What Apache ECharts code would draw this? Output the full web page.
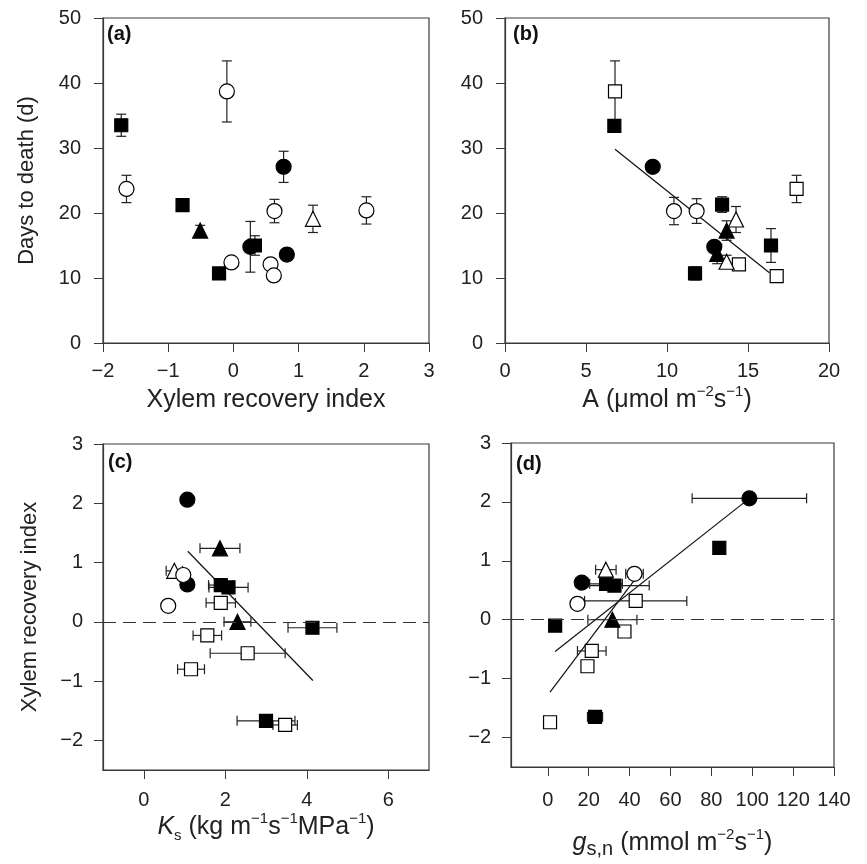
<!DOCTYPE html>
<html>
<head>
<meta charset="utf-8">
<script src="https://cdn.jsdelivr.net/npm/echarts@6/dist/echarts.min.js"></script>
<style>
  html, body { margin: 0; background: #fff; }
  #chart { width: 867px; height: 864px; }
</style>
</head>
<body>
<div id="chart"></div>
<script>
// panel (a): [xylem recovery index, days to death, y error]
const aFilledSq = [[-1.72, 33.5, 1.7], [-0.78, 21.2, 0.9], [-0.22, 10.7, 0], [0.33, 15.0, 1.5]];
const aOpenCi = [[-1.64, 23.7, 2.1], [-0.10, 38.7, 4.7], [-0.03, 12.4, 0.6], [0.63, 20.3, 1.8], [0.57, 12.1, 0], [0.62, 10.4, 0], [2.04, 20.4, 2.1]];
const aFilledCi = [[0.26, 14.8, 3.9], [0.77, 27.1, 2.4], [0.82, 13.6, 0]];
const aFilledTr = [[-0.51, 17.3, 0.8]];
const aOpenTr = [[1.22, 19.1, 2.1]];

// panel (b): [A, days to death, y error]
const bOpenSq = [[6.79, 38.7, 4.7], [14.44, 12.1, 0], [16.77, 10.3, 0], [18.0, 23.7, 2.1]];
const bFilledSq = [[6.75, 33.4, 0], [13.4, 21.3, 1.2], [11.73, 10.7, 1.0], [16.42, 15.0, 2.6]];
const bFilledCi = [[9.12, 27.1, 0], [12.92, 14.8, 0]];
const bOpenCi = [[10.43, 20.3, 2.1], [11.83, 20.3, 1.9]];
const bFilledTr = [[13.68, 17.3, 1.5], [13.1, 13.7, 1.5]];
const bOpenTr = [[14.26, 19.0, 2.0], [13.68, 12.5, 1.0]];
const bFit = [[6.79, 29.8], [16.32, 10.8]];

// panel (c): [Ks, xylem recovery index, x error]
const cFilledCi = [[1.07, 2.06, 0.08], [1.07, 0.63, 0.08]];
const cFilledTr = [[1.87, 1.24, 0.49], [2.30, 0.0, 0.33]];
const cOpenTr = [[0.75, 0.86, 0.2]];
const cOpenCi = [[0.97, 0.79, 0], [0.60, 0.27, 0]];
const cFilledSq = [[1.89, 0.62, 0.3], [2.08, 0.58, 0.48], [4.14, -0.10, 0.6], [3.0, -1.67, 0.71]];
const cOpenSq = [[1.89, 0.32, 0.36], [1.56, -0.23, 0.35], [2.55, -0.53, 0.92], [1.16, -0.80, 0.33], [3.47, -1.74, 0.3]];
const cFit = [[1.08, 1.19], [4.15, -0.99]];

// panel (d): [gs,n, xylem recovery index, x error]
const dFilledCi = [[98.6, 2.06, 28], [16.6, 0.63, 3]];
const dFilledSq = [[83.9, 1.22, 0], [28.5, 0.61, 8], [32.6, 0.58, 17], [3.6, -0.10, 0], [23.1, -1.65, 3.7]];
const dOpenTr = [[28.4, 0.85, 5]];
const dOpenCi = [[42.4, 0.78, 4.3], [14.5, 0.27, 0]];
const dOpenSq = [[43.0, 0.32, 25], [37.5, -0.20, 0], [21.5, -0.53, 7], [19.4, -0.79, 0], [1.1, -1.74, 0]];
const dFilledTr = [[31.6, 0.0, 12]];
const dFit1 = [[3.6, -0.54], [98.6, 2.06]];
const dFit2 = [[1.1, -1.23], [43.2, 0.71]];

const xTicksC = [0, 2, 4, 6];
const xTicksD = [0, 20, 40, 60, 80, 100, 120, 140];
const yTicksCD = [-2, -1, 0, 1, 2, 3];

const FONT = 'Liberation Sans, Arial, sans-serif';
const INK = '#222';
const AXIS = '#3a3a3a';

const SYM = {
  fsq: { symbol: 'rect', size: 13, fill: '#000' },
  osq: { symbol: 'rect', size: 13, fill: '#fff' },
  fci: { symbol: 'circle', size: 15, fill: '#000' },
  oci: { symbol: 'circle', size: 15, fill: '#fff' },
  ftr: { symbol: 'triangle', size: 15, fill: '#000' },
  otr: { symbol: 'triangle', size: 15, fill: '#fff' }
};

const minus = v => (v < 0 ? '\u2212' + Math.abs(v) : String(v));

const scatter = (idx, data, kind) => {
  const s = SYM[kind];
  return {
    type: 'scatter',
    xAxisIndex: idx,
    yAxisIndex: idx,
    silent: true,
    z: 4,
    symbol: s.symbol,
    symbolSize: s.size,
    itemStyle: { color: s.fill, borderColor: '#000', borderWidth: 1.2, opacity: 1 },
    data: data.map(p => [p[0], p[1]])
  };
};

const errBars = (idx, data, horiz) => ({
  type: 'custom',
  xAxisIndex: idx,
  yAxisIndex: idx,
  silent: true,
  z: 3,
  data: data.filter(p => p[2] > 0),
  renderItem: (params, api) => {
    const x = api.value(0);
    const y = api.value(1);
    const e = api.value(2);
    const p1 = horiz ? api.coord([x - e, y]) : api.coord([x, y - e]);
    const p2 = horiz ? api.coord([x + e, y]) : api.coord([x, y + e]);
    const c = 5;
    const style = { stroke: INK, lineWidth: 1.2, fill: null };
    const seg = (a, b) => ({ type: 'line', shape: { x1: a[0], y1: a[1], x2: b[0], y2: b[1] }, style });
    const caps = horiz
      ? [seg([p1[0], p1[1] - c], [p1[0], p1[1] + c]), seg([p2[0], p2[1] - c], [p2[0], p2[1] + c])]
      : [seg([p1[0] - c, p1[1]], [p1[0] + c, p1[1]]), seg([p2[0] - c, p2[1]], [p2[0] + c, p2[1]])];
    return { type: 'group', children: [seg(p1, p2)].concat(caps) };
  }
});

const fitLine = (idx, data) => ({
  type: 'line',
  xAxisIndex: idx,
  yAxisIndex: idx,
  silent: true,
  z: 2,
  symbol: 'none',
  lineStyle: { color: '#111', width: 1.2 },
  data
});

const zeroLine = (idx) => ({
  type: 'line',
  xAxisIndex: idx,
  yAxisIndex: idx,
  silent: true,
  data: [],
  markLine: {
    silent: true,
    symbol: 'none',
    label: { show: false },
    lineStyle: { color: '#333', width: 1.2, type: [13, 7] },
    data: [{ yAxis: 0 }]
  }
});

// x titles are set a little wider than y titles, as in the figure
const nameRich = {
  n: { fontSize: 25, color: INK, fontFamily: FONT, lineHeight: 32, verticalAlign: 'middle' },
  i: { fontSize: 25, color: INK, fontFamily: FONT, fontStyle: 'italic', lineHeight: 32, verticalAlign: 'middle' },
  sup: { fontSize: 15, color: INK, fontFamily: FONT, lineHeight: 15, verticalAlign: 'top' },
  sub: { fontSize: 15, color: INK, fontFamily: FONT, lineHeight: 15, verticalAlign: 'bottom' },
  sub2: { fontSize: 20, color: INK, fontFamily: FONT, lineHeight: 20, verticalAlign: 'bottom' }
};

const tickLabel = (margin, extra) => Object.assign({ color: INK, fontSize: 20, fontFamily: FONT, margin }, extra);

const baseAxis = (extra) => Object.assign({
  type: 'value',
  axisLine: { show: true, onZero: false, lineStyle: { color: AXIS, width: 1.2 } },
  axisTick: { show: true, inside: false, length: 9, lineStyle: { color: AXIS } },
  splitLine: { show: false },
  axisLabel: tickLabel(22),
  nameLocation: 'middle',
  nameTextStyle: { color: INK, fontSize: 25, fontFamily: FONT, rich: nameRich }
}, extra);

const yName = { color: INK, fontSize: 22, fontFamily: FONT };

const grids = [
  { left: 103, top: 18, width: 326, height: 325 },
  { left: 505, top: 18, width: 324, height: 325 },
  { left: 103, top: 444, width: 326, height: 326 },
  { left: 511, top: 443, width: 323, height: 324 }
].map(g => Object.assign({ show: true, borderColor: AXIS, borderWidth: 1.2, backgroundColor: '#fff' }, g));

const xAxes = [
  baseAxis({ gridIndex: 0, min: -2, max: 3, interval: 1, nameGap: 41,
    name: '{n|Xylem recovery index}',
    axisLabel: tickLabel(18, { formatter: minus }) }),
  baseAxis({ gridIndex: 1, min: 0, max: 20, interval: 5, nameGap: 41,
    name: '{n|A (\u03bcmol m}{sup|\u22122}{n|s}{sup|\u22121}{n|)}',
    axisLabel: tickLabel(18) }),
  baseAxis({ gridIndex: 2, min: -1, max: 7, nameGap: 40,
    name: '{i|K}{sub|s}{n| (kg m}{sup|\u22121}{n|s}{sup|\u22121}{n|MPa}{sup|\u22121}{n|)}',
    axisTick: { show: true, length: 9, lineStyle: { color: AXIS }, customValues: xTicksC },
    axisLabel: tickLabel(20, { customValues: xTicksC }) }),
  baseAxis({ gridIndex: 3, min: -18, max: 140, nameGap: 60,
    name: '{i|g}{sub2|s,n}{n| (mmol m}{sup|\u22122}{n|s}{sup|\u22121}{n|)}',
    axisTick: { show: true, length: 9, lineStyle: { color: AXIS }, customValues: xTicksD },
    axisLabel: tickLabel(23, { customValues: xTicksD }) })
];

const yAxes = [
  baseAxis({ gridIndex: 0, min: 0, max: 50, interval: 10, name: 'Days to death (d)', nameGap: 65, nameTextStyle: yName }),
  baseAxis({ gridIndex: 1, min: 0, max: 50, interval: 10 }),
  baseAxis({ gridIndex: 2, min: -2.5, max: 3, name: 'Xylem recovery index', nameGap: 62, nameTextStyle: yName,
    axisTick: { show: true, length: 9, lineStyle: { color: AXIS }, customValues: yTicksCD },
    axisLabel: tickLabel(20, { customValues: yTicksCD, formatter: minus }) }),
  baseAxis({ gridIndex: 3, min: -2.5, max: 3,
    axisTick: { show: true, length: 9, lineStyle: { color: AXIS }, customValues: yTicksCD },
    axisLabel: tickLabel(20, { customValues: yTicksCD, formatter: minus }) })
];

const panels = [
  { idx: 0, horiz: false, sets: [[aFilledSq, 'fsq'], [aOpenCi, 'oci'], [aFilledCi, 'fci'], [aFilledTr, 'ftr'], [aOpenTr, 'otr']] },
  { idx: 1, horiz: false, sets: [[bOpenSq, 'osq'], [bFilledSq, 'fsq'], [bFilledCi, 'fci'], [bOpenCi, 'oci'], [bFilledTr, 'ftr'], [bOpenTr, 'otr']] },
  { idx: 2, horiz: true, sets: [[cFilledCi, 'fci'], [cFilledTr, 'ftr'], [cOpenTr, 'otr'], [cOpenCi, 'oci'], [cFilledSq, 'fsq'], [cOpenSq, 'osq']] },
  { idx: 3, horiz: true, sets: [[dFilledCi, 'fci'], [dFilledSq, 'fsq'], [dOpenTr, 'otr'], [dOpenCi, 'oci'], [dOpenSq, 'osq'], [dFilledTr, 'ftr']] }
];

const series = [
  fitLine(1, bFit),
  fitLine(2, cFit),
  fitLine(3, dFit1),
  fitLine(3, dFit2),
  zeroLine(2),
  zeroLine(3)
];
panels.forEach(p => {
  p.sets.forEach(([data, kind]) => {
    series.push(errBars(p.idx, data, p.horiz));
    series.push(scatter(p.idx, data, kind));
  });
});

const panelLabel = (text, left, top) => ({
  type: 'text', left, top, silent: true,
  style: { text, fontSize: 20, fontWeight: 'bold', fontFamily: FONT, fill: '#111' }
});

const chart = echarts.init(document.getElementById('chart'), null, { renderer: 'canvas' });
chart.setOption({
  backgroundColor: '#fff',
  animation: false,
  grid: grids,
  xAxis: xAxes,
  yAxis: yAxes,
  series,
  graphic: [
    panelLabel('(a)', 107, 24),
    panelLabel('(b)', 513, 24),
    panelLabel('(c)', 108, 452),
    panelLabel('(d)', 516, 454)
  ]
});
</script>
</body>
</html>
